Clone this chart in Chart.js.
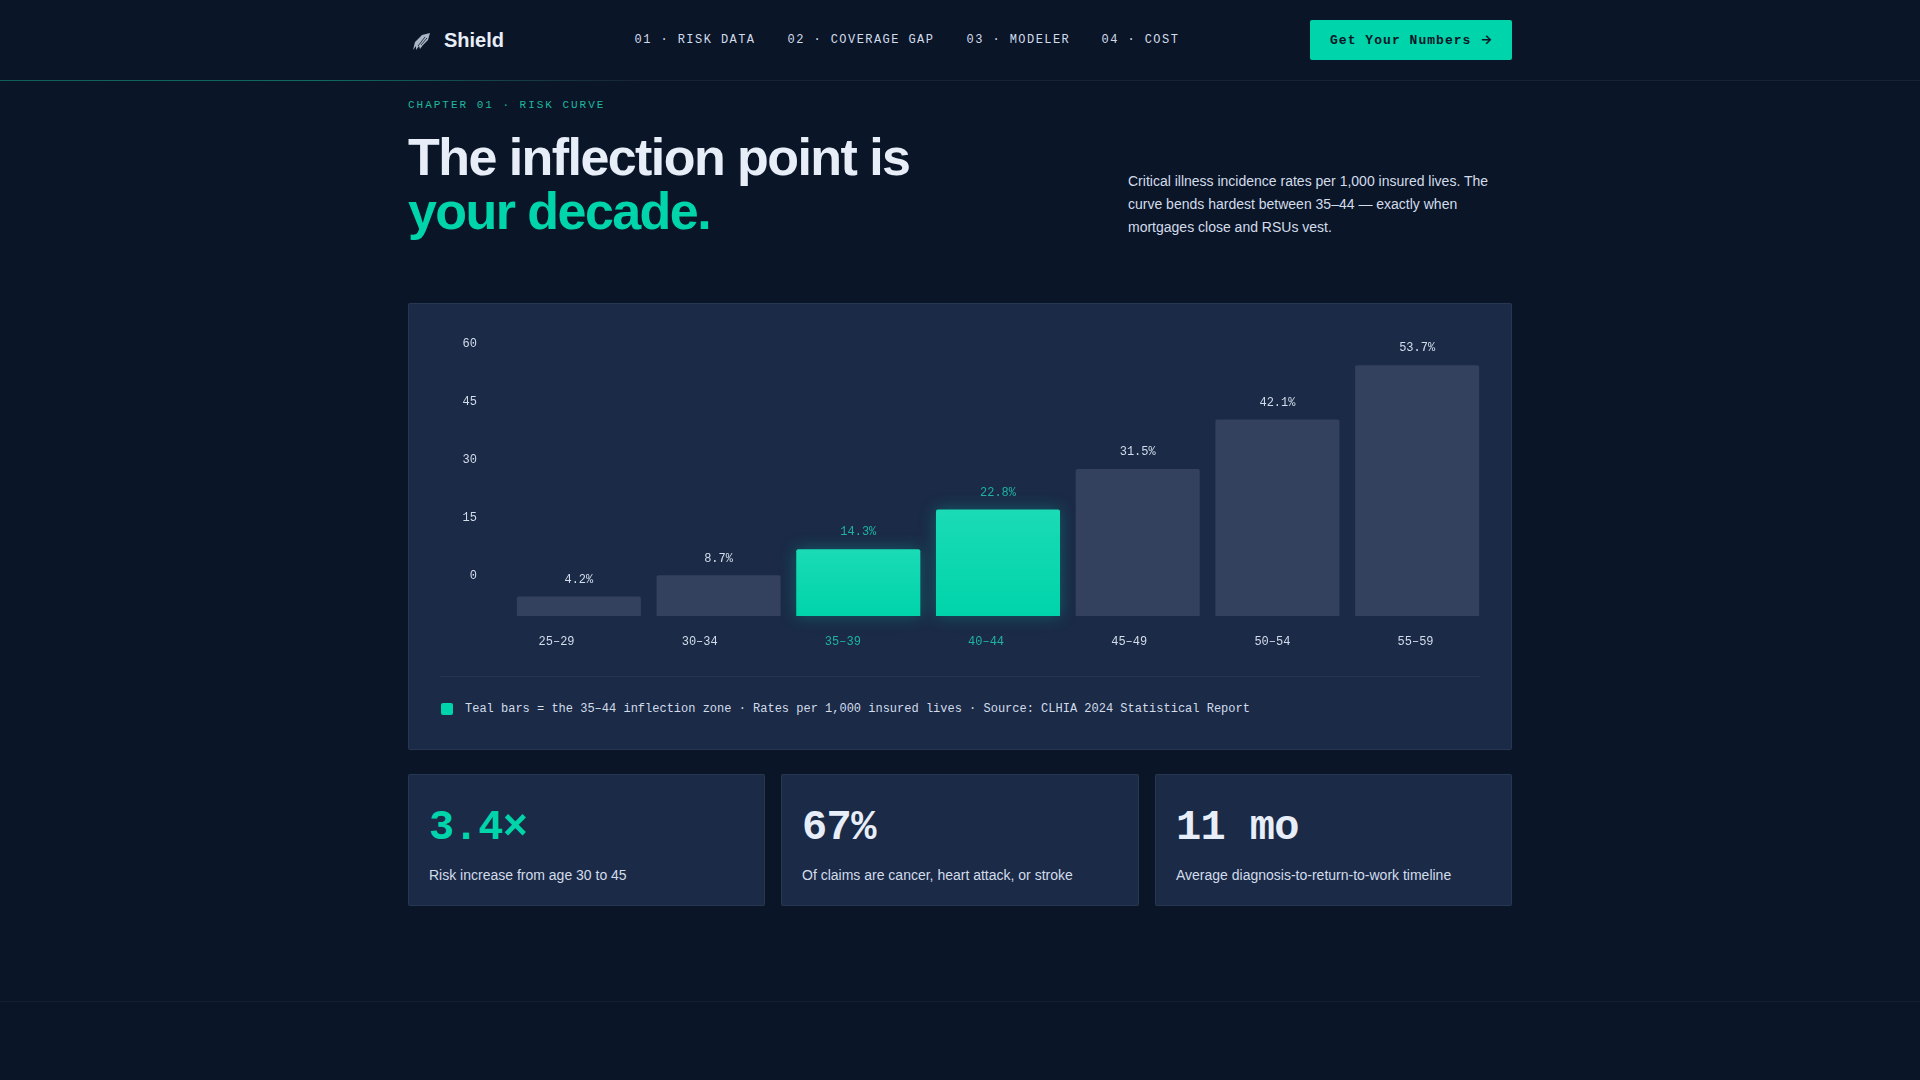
<!DOCTYPE html>
<html>
<head>
<meta charset="utf-8">
<title>Shield</title>
<script src="https://cdn.jsdelivr.net/npm/chart.js@4"></script>
<style>
  * { box-sizing: border-box; margin: 0; padding: 0; }
  html, body { width: 1920px; height: 1080px; overflow: hidden; background: #0a1628; }
  body { position: relative; font-family: "Liberation Sans", sans-serif; color: #d3dcea; }
  .abs { position: absolute; white-space: nowrap; }
  .mono { font-family: "Liberation Mono", monospace; }
  .nav-line { left: 0; top: 80px; width: 1920px; height: 1px; background: rgba(255,255,255,0.06); }
  .nav-glow { left: 0; top: 80px; width: 640px; height: 1px; background: linear-gradient(90deg, #00d4aa55, #00d4aa66 50%, transparent); }
  .brand { left: 444px; top: 28px; font-size: 20px; line-height: 24px; font-weight: 700; color: #e8eef8; }
  .link { top: 32px; font-size: 12px; line-height: 16px; letter-spacing: 0.12em; }
  .cta { left: 1310px; top: 20px; width: 202px; height: 40px; background: #00d4aa; border-radius: 2px; color: #0a1628;
         font-size: 13px; font-weight: 700; letter-spacing: 0.08em; line-height: 38px; padding-left: 20px; }
  .cta span { font-family: Inter, sans-serif; letter-spacing: 0; }
  .chapter { left: 408px; top: 98px; font-size: 11px; line-height: 15px; letter-spacing: 0.18em; color: #1fb89c; }
  h1 { left: 408px; top: 130px; font-size: 52px; line-height: 54px; font-weight: 700; letter-spacing: -0.03em; color: #e8eef8; }
  h1 span { color: #00d4aa; }
  .lede { left: 1128px; top: 170px; font-size: 14px; line-height: 23px; }
  .panel { left: 408px; top: 303px; width: 1104px; height: 447px; background: #1a2a47; border: 1px solid rgba(255,255,255,0.06); border-radius: 2px; }
  #chart-wrap { position: absolute; left: 440px; top: 299px; width: 1047px; height: 361px; }
  .rule { left: 440px; top: 676px; width: 1040px; height: 1px; background: rgba(255,255,255,0.05); }
  .swatch { left: 441px; top: 703px; width: 12px; height: 12px; background: #00d4aa; border-radius: 2px; }
  .note { left: 465px; top: 701px; font-size: 12px; line-height: 16px; }
  .card { top: 774px; width: 357.33px; height: 132px; background: #1a2a47; border: 1px solid rgba(255,255,255,0.06); border-radius: 2px; }
  .stat { top: 803px; font-size: 42px; line-height: 50px; font-weight: 700; letter-spacing: -0.015em; color: #e8eef8; }
  .stat.teal { color: #00d4aa; }
  .stat-label { top: 866px; font-size: 14px; line-height: 18px; }
  .foot { left: 0; top: 1001px; width: 1920px; height: 1px; background: rgba(255,255,255,0.04); }
</style>
</head>
<body>
  <div class="abs nav-line"></div>
  <div class="abs nav-glow"></div>
  <svg class="abs" style="left:411px;top:30px" width="22" height="22" viewBox="0 0 22 22">
    <path d="M19 3 L11 5 L4 12 L2 20 L5 16 L5 20 L8 16 L9 19 L12 15 L17 10 Z" fill="#a9b4c4"/>
    <g stroke="#0a1628" stroke-width="0.8" fill="none"><path d="M7 16 L14 7"/><path d="M10 15 L16 8"/></g>
  </svg>
  <div class="abs brand">Shield</div>
  <div class="abs mono link" style="left:634.5px">01 · RISK DATA</div>
  <div class="abs mono link" style="left:787.5px">02 · COVERAGE GAP</div>
  <div class="abs mono link" style="left:966.5px">03 · MODELER</div>
  <div class="abs mono link" style="left:1101.5px">04 · COST</div>
  <div class="abs mono cta">Get Your Numbers <span>→</span></div>

  <div class="abs mono chapter">CHAPTER 01 · RISK CURVE</div>
  <h1 class="abs">The inflection point is<br><span>your decade.</span></h1>
  <p class="abs lede">Critical illness incidence rates per 1,000 insured lives. The<br>curve bends hardest between 35–44 — exactly when<br>mortgages close and RSUs vest.</p>

  <div class="abs panel"></div>
  <div id="chart-wrap"><canvas id="chart"></canvas></div>
  <div class="abs rule"></div>
  <div class="abs swatch"></div>
  <div class="abs mono note">Teal bars = the 35–44 inflection zone · Rates per 1,000 insured lives · Source: CLHIA 2024 Statistical Report</div>

  <div class="abs card" style="left:408px"></div>
  <div class="abs card" style="left:781.33px"></div>
  <div class="abs card" style="left:1154.67px"></div>
  <div class="abs mono stat teal" style="left:429px">3.4×</div>
  <div class="abs mono stat" style="left:802px">67%</div>
  <div class="abs mono stat" style="left:1176px">11 mo</div>
  <div class="abs stat-label" style="left:429px">Risk increase from age 30 to 45</div>
  <div class="abs stat-label" style="left:802px">Of claims are cancer, heart attack, or stroke</div>
  <div class="abs stat-label" style="left:1176px">Average diagnosis-to-return-to-work timeline</div>
  <div class="abs foot"></div>

<script>
const ageBands = ["25–29", "30–34", "35–39", "40–44", "45–49", "50–54", "55–59"];
const rates = [4.2, 8.7, 14.3, 22.8, 31.5, 42.1, 53.7];
const inflectionBands = ["35–39", "40–44"];
const yTicks = [0, 15, 30, 45, 60];

const TEAL = "#00d4aa";
const TEAL_LABEL = "#1fb3a0";
const LABEL = "#d3dcea";
const MONO = "'Liberation Mono', monospace";

const isInflection = (i) => inflectionBands.includes(ageBands[i]);

// Glow only on the teal dataset, labels above every bar
const barExtras = {
  id: "barExtras",
  beforeDatasetDraw(chart, args) {
    if (args.index !== 1) return;
    chart.ctx.save();
    chart.ctx.shadowColor = "rgba(0,212,170,0.3)";
    chart.ctx.shadowBlur = 16;
  },
  afterDatasetDraw(chart, args) {
    if (args.index === 1) chart.ctx.restore();
  },
  afterDatasetsDraw(chart) {
    const ctx = chart.ctx;
    ctx.save();
    ctx.font = "12px " + MONO;
    ctx.textAlign = "center";
    ctx.textBaseline = "middle";
    chart.data.datasets.forEach((ds, d) => {
      chart.getDatasetMeta(d).data.forEach((bar, i) => {
        if (ds.data[i] === null) return;
        ctx.fillStyle = d === 1 ? TEAL_LABEL : LABEL;
        ctx.fillText(ds.data[i].toFixed(1) + "%", bar.x, bar.y - 17);
      });
    });
    ctx.restore();
  },
};

function tealGradient(context) {
  const { chartArea, scales, ctx } = context.chart;
  if (!chartArea || context.raw === null || context.raw === undefined) return TEAL;
  const top = scales.y.getPixelForValue(context.raw);
  if (!Number.isFinite(top)) return TEAL;
  const g = ctx.createLinearGradient(0, top, 0, chartArea.bottom);
  g.addColorStop(0, "#1adbb6");
  g.addColorStop(1, TEAL);
  return g;
}

new Chart(document.getElementById("chart"), {
  type: "bar",
  data: {
    labels: ageBands,
    datasets: [
      {
        data: rates.map((v, i) => (isInflection(i) ? null : v)),
        backgroundColor: "#33415e",
      },
      {
        data: rates.map((v, i) => (isInflection(i) ? v : null)),
        backgroundColor: tealGradient,
        clip: false,
      },
    ],
  },
  plugins: [barExtras],
  options: {
    responsive: true,
    maintainAspectRatio: false,
    animation: false,
    layout: { padding: 0 },
    plugins: { legend: { display: false }, tooltip: { enabled: false } },
    datasets: {
      bar: {
        grouped: false,
        categoryPercentage: 1,
        barPercentage: 0.888,
        borderRadius: { topLeft: 2, topRight: 2 },
        borderSkipped: false,
      },
    },
    scales: {
      x: { display: false },
      y: { display: false, bounds: "data", min: 0, max: 61.2 },
      // The printed axes sit apart from the bars in the reference, so they get their own scales
      x2: {
        type: "linear",
        position: "bottom",
        bounds: "data",
        offset: false,
        min: -0.332,
        max: 6.499,
        grid: { display: false },
        border: { display: false },
        afterBuildTicks: (s) => { s.ticks = ageBands.map((_, i) => ({ value: i })); },
        afterFit: (s) => { s.height = 44; },
        ticks: {
          autoSkip: false,
          maxRotation: 0,
          padding: 11,
          font: { family: MONO, size: 12 },
          color: (c) => (isInflection(c.index) ? TEAL_LABEL : LABEL),
          callback: (v) => ageBands[v],
        },
      },
      y2: {
        type: "linear",
        position: "left",
        bounds: "data",
        min: -10.35,
        max: 63.65,
        grid: { display: false },
        border: { display: false },
        afterBuildTicks: (s) => { s.ticks = yTicks.map((v) => ({ value: v })); },
        afterFit: (s) => { s.width = 69; },
        ticks: {
          padding: 24,
          font: { family: MONO, size: 12 },
          color: LABEL,
        },
      },
    },
  },
});
</script>
</body>
</html>
